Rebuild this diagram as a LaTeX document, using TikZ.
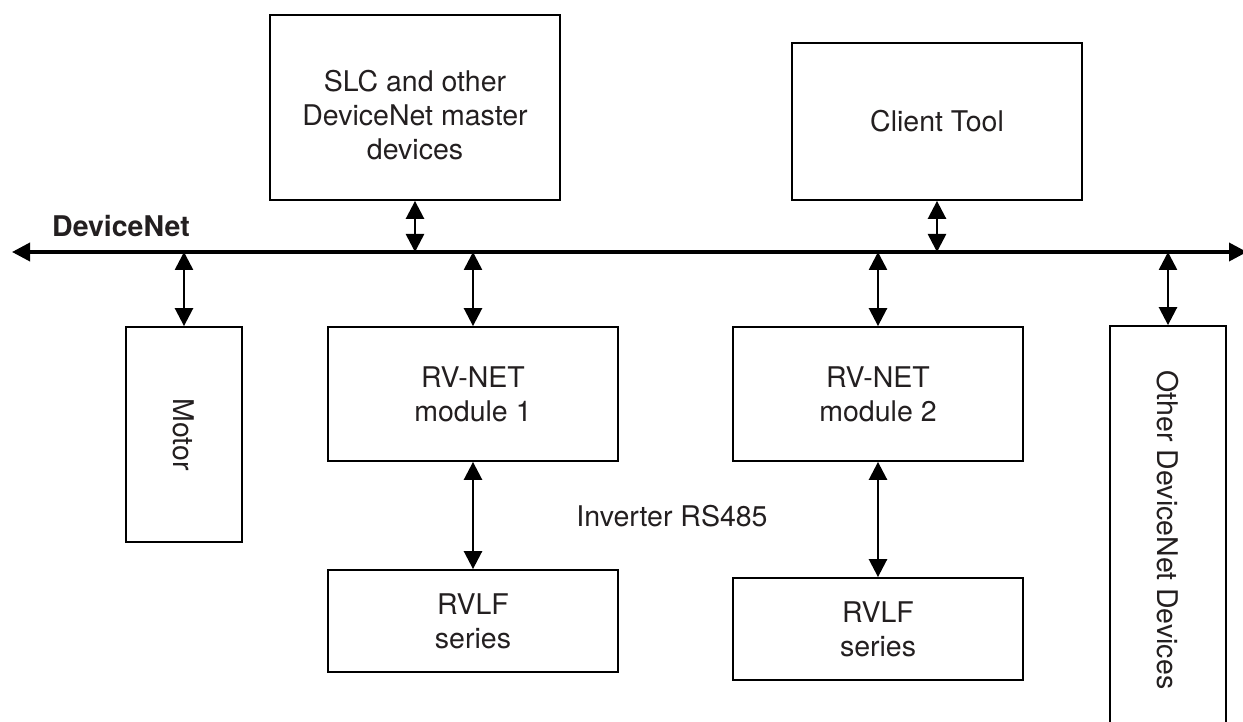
\documentclass[tikz,border=0pt]{standalone}
\usepackage{fontspec}
\setmainfont{TeX Gyre Heros}
\usepackage{graphicx}
\usetikzlibrary{arrows.meta}
\definecolor{txt}{HTML}{231F20}
\tikzset{
  box/.style={draw=black, line width=1.8pt, fill=white, inner sep=0pt, align=center,
    text=txt, font=\fontsize{28.5}{34}\selectfont},
  conn/.style={line width=2.6pt, {Triangle[length=18pt,width=18pt]}-{Triangle[length=18pt,width=18pt]}},
  busline/.style={line width=3.6pt, {Triangle[length=18pt,width=18pt]}-{Triangle[length=18pt,width=18pt]}},
  lbl/.style={text=txt, font=\fontsize{28.5}{34}\selectfont, inner sep=0pt}
}
\begin{document}
\begin{tikzpicture}[x=1pt,y=-1pt]
\clip (0,0) rectangle (1243,722);
\fill[white] (0,0) rectangle (1243,722);
\coordinate (busL) at (12,252);
\coordinate (busR) at (1247,252);
\draw[busline] (busL) -- (busR);
\node[lbl, font=\fontsize{28.5}{34}\selectfont\bfseries, anchor=base west] (dnet) at (52,237) {DeviceNet};

\node[box, minimum width=290pt, minimum height=185pt] (slc) at (415,107.5) {};
\node[lbl, align=center] (slctext) at (415,115) {SLC and other\\DeviceNet master\\devices};
\node[box, minimum width=290pt, minimum height=157pt] (client) at (937,121.5) {Client Tool};
\node[box, minimum width=116pt, minimum height=215pt] (motor) at (184,434.5) {\rotatebox{-90}{Motor}};
\node[box, minimum width=290pt, minimum height=134pt] (rv1) at (473,394) {RV-NET\\module 1};
\node[box, minimum width=290pt, minimum height=134pt] (rv2) at (878,394) {RV-NET\\module 2};
\node[box, minimum width=290pt, minimum height=102pt] (rvlf1) at (473,621) {RVLF\\series};
\node[box, minimum width=290pt, minimum height=102pt] (rvlf2) at (878,629) {RVLF\\series};
\node[box, minimum width=116pt, minimum height=408pt] (other) at (1168,530) {\rotatebox{-90}{Other DeviceNet Devices}};
\node[lbl, anchor=base] (inv) at (672,526) {Inverter RS485};

\draw[conn] (slc.south) -- (slc.south |- busL);
\draw[conn] (client.south) -- (client.south |- busL);
\draw[conn] (motor.north |- busL) -- (motor.north);
\draw[conn] (rv1.north |- busL) -- (rv1.north);
\draw[conn] (rv2.north |- busL) -- (rv2.north);
\draw[conn] (other.north |- busL) -- (other.north);
\draw[conn] (rv1.south) -- (rvlf1.north);
\draw[conn] (rv2.south) -- (rvlf2.north);
\end{tikzpicture}
\end{document}
